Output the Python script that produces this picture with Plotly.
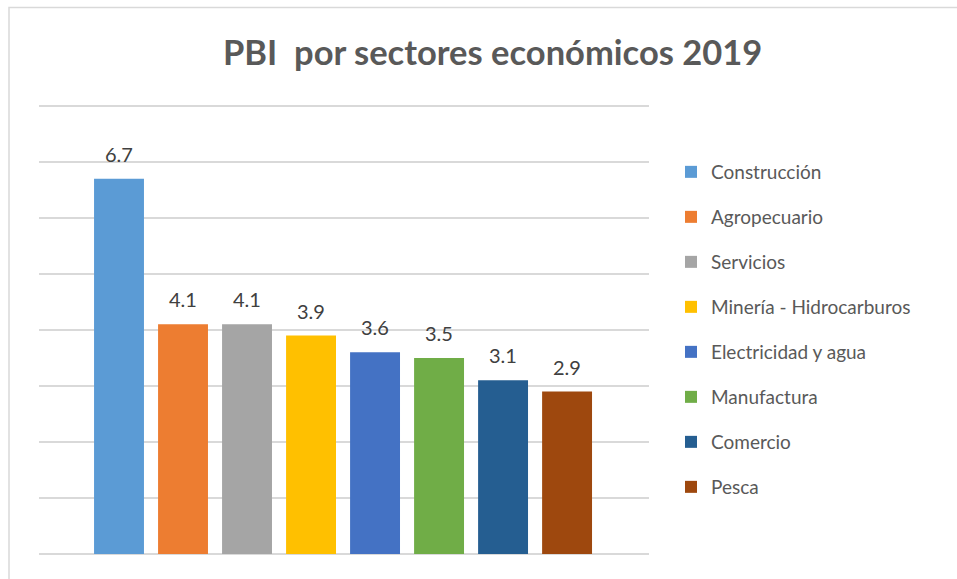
import plotly.graph_objects as go

sectores = ["Construcción", "Agropecuario", "Servicios", "Minería - Hidrocarburos",
            "Electricidad y agua", "Manufactura", "Comercio", "Pesca"]
valores = [6.7, 4.1, 4.1, 3.9, 3.6, 3.5, 3.1, 2.9]
colores = ["#5B9BD5", "#ED7D31", "#A5A5A5", "#FFC000",
           "#4472C4", "#70AD47", "#255E91", "#9E480E"]
posiciones = list(range(len(sectores)))

W, H = 957, 579
L, R, T, B = 39, 957 - 649, 103, 579 - 554
pw, ph = W - L - R, H - T - B

fig = go.Figure()
for i, (s, v, c) in enumerate(zip(sectores, valores, colores)):
    fig.add_trace(go.Bar(
        x=[posiciones[i]], y=[v], name=s, width=0.78,
        marker=dict(color=c, line=dict(width=0)),
        legendgroup=s, hoverinfo="name+y",
    ))
    fig.add_annotation(x=posiciones[i], y=v, text=f"{v:.1f}", showarrow=False,
                       xanchor="center", yanchor="middle", yshift=25,
                       font=dict(family="Lato", size=20, color="#404040"))

def px_x(p):
    return (p - L) / pw

def px_y(p):
    return (H - B - p) / ph

fig.add_shape(type="rect", xref="paper", yref="paper",
              x0=px_x(9), x1=px_x(990), y0=px_y(7.5), y1=px_y(600),
              line=dict(color="#d9d9d9", width=1.5), layer="below")

fig.add_annotation(text="<b>PBI  por sectores económicos 2019</b>",
                   xref="paper", yref="paper", x=px_x(492), y=px_y(51),
                   xanchor="center", yanchor="middle", showarrow=False,
                   font=dict(family="Lato", size=34.5, color="#595959"))

fig.update_layout(
    width=W, height=H,
    margin=dict(l=L, r=R, t=T, b=B, autoexpand=False),
    paper_bgcolor="white", plot_bgcolor="white",
    showlegend=True,
    legend=dict(x=px_x(671), y=px_y(153), xanchor="left", yanchor="top",
                font=dict(family="Lato", size=19, color="#595959"),
                traceorder="grouped", tracegroupgap=17.3,
                bgcolor="rgba(0,0,0,0)"),
    xaxis=dict(range=[-1.25, 8.28], showticklabels=False, showgrid=False,
               zeroline=False, showline=False, ticks=""),
    yaxis=dict(range=[0, 8.05], tick0=0, dtick=1, showticklabels=False, showgrid=True,
               gridcolor="#d9d9d9", gridwidth=1.5, zeroline=True,
               zerolinecolor="#d9d9d9", zerolinewidth=1.5, ticks=""),
)

fig.write_html("out.html")
